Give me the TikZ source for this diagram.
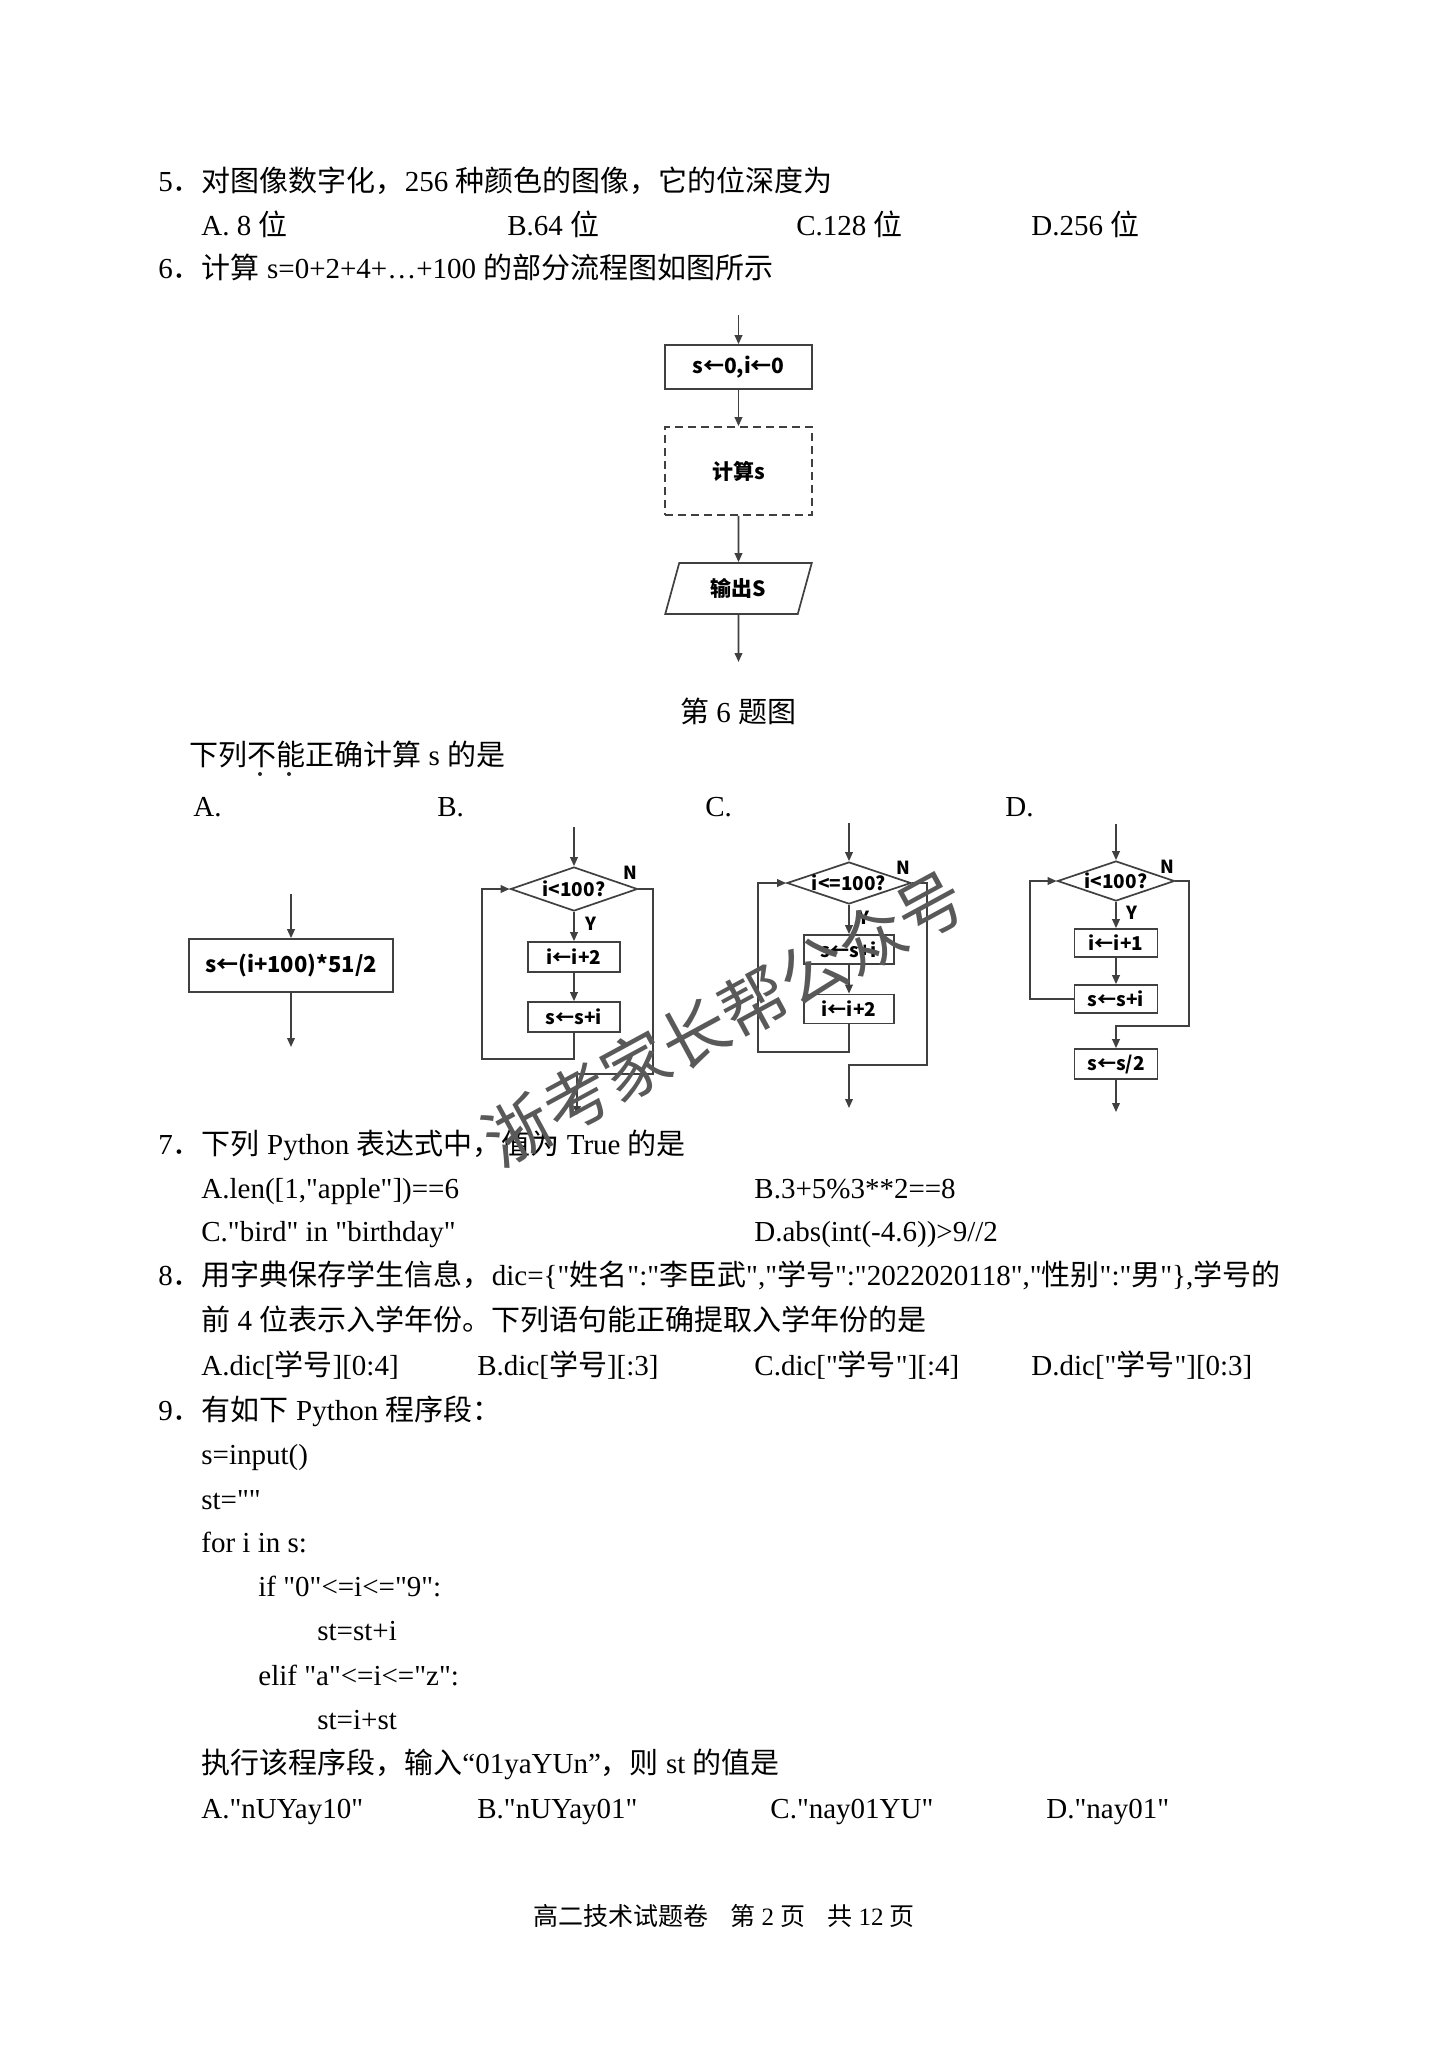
\documentclass[tikz,border=0pt]{standalone}
\usepackage{fontspec}
\setmainfont{Liberation Serif}[Ligatures=TeXOff]
\newfontfamily\cjk{Noto Sans CJK SC}
\newfontfamily\chartfont{Noto Sans CJK SC}
\usetikzlibrary{arrows.meta,shapes.geometric}
\newcommand\zh[1]{{\cjk #1}}
\newcommand\bodysize{\fontsize{14.5pt}{17pt}\selectfont}
\newcommand\ctr[1]{\makebox[0pt]{#1}}
\tikzset{
  flowline/.style={draw=black!75, line width=0.85pt},
  arr/.style={flowline, -{Triangle[length=4.5pt,width=3.8pt]}},
  txt/.style={anchor=base west, inner sep=0pt, font=\bodysize},
  flowbox/.style={flowline, rectangle, inner sep=0pt, font=\chartfont\bfseries\fontsize{9.5pt}{11pt}\selectfont},
  decision/.style={flowline, diamond, inner sep=0pt, font=\chartfont\bfseries\fontsize{9.5pt}{11pt}\selectfont},
  yn/.style={inner sep=0pt, font=\chartfont\bfseries\fontsize{9pt}{11pt}\selectfont},
}
\begin{document}
\begin{tikzpicture}[x=0.5pt,y=-0.5pt]
	\useasboundingbox (0,0) rectangle (1448,2047);
	\fill[white] (0,0) rectangle (1448,2047);
	% question 5
	\node[txt] (q5) at (158,191) {5\zh{．对图像数字化，}256 \zh{种颜色的图像，它的位深度为}};
	\node[txt] (q5a) at (201,235) {A. 8 \zh{位}};
	\node[txt] (q5b) at (507,235) {B.64 \zh{位}};
	\node[txt] (q5c) at (796,235) {C.128 \zh{位}};
	\node[txt] (q5d) at (1031,235) {D.256 \zh{位}};
	% question 6
	\node[txt] (q6) at (158,278) {6\zh{．计算} s=0+2+4+…+100 \zh{的部分流程图如图所示}};
	\coordinate (in0) at (738.5,315);
	\node[flowbox, minimum width=73.5pt, minimum height=22pt, font=\chartfont\bfseries\fontsize{10.5pt}{13pt}\selectfont] (init) at (738.5,367) {s←0,i←0};
	\node[flowbox, dash pattern=on 4pt off 2.5pt, minimum width=73.5pt, minimum height=44pt, font=\chartfont\bfseries\fontsize{10.5pt}{13pt}\selectfont] (calc) at (738.5,471) {计算s};
	\node[flowline, trapezium, trapezium left angle=72, trapezium right angle=108, trapezium stretches=true, minimum width=73.5pt, minimum height=25.5pt, inner sep=0pt, font=\chartfont\bfseries\fontsize{10.5pt}{13pt}\selectfont] (outS) at (738.5,588.5) {输出S};
	\coordinate (out0) at (738.5,662);
	\draw[arr] (in0) -- (init);
	\draw[arr] (init) -- (calc);
	\draw[arr] (calc) -- (outS);
	\draw[arr] (outS) -- (out0);
	\node[txt, anchor=base] (cap) at (738,722) {\zh{第} 6 \zh{题图}};
	\node[txt] (ask) at (189,765) {\zh{下列不能正确计算} s \zh{的是}};
	\fill[black!85] (260,774) circle (1pt) (289,774) circle (1pt);
	\node[txt] (lA) at (193,816) {A.};
	\node[txt] (lB) at (437,816) {B.};
	\node[txt] (lC) at (705,816) {C.};
	\node[txt] (lD) at (1005,816) {D.};
	% A
	\coordinate (Ain) at (291,894);
	\node[flowbox, minimum width=102pt, minimum height=26.5pt, font=\chartfont\bfseries\fontsize{11pt}{13pt}\selectfont] (As) at (291,965.5) {s←(i+100)*51/2};
	\coordinate (Aout) at (291,1047);
	\draw[arr] (Ain) -- (As);
	\draw[arr] (As) -- (Aout);
	% B
	\coordinate (Bin) at (574,827);
	\node[decision, minimum width=63.5pt, minimum height=22pt] (Bd) at (574,889) {\ctr{i<100?}};
	\node[flowbox, minimum width=46pt, minimum height=15pt] (Bi) at (574,957) {i←i+2};
	\node[flowbox, minimum width=46pt, minimum height=15pt] (Bs) at (574,1017) {s←s+i};
	\node[yn] (BN) at (630,873) {N};
	\node[yn] (BY) at (591,924) {Y};
	\coordinate (Bl) at (482,1059);
	\coordinate (Br) at (653,1074);
	\coordinate (Bo) at (577,1115);
	\draw[arr] (Bin) -- (Bd);
	\draw[arr] (Bd) -- (Bi);
	\draw[arr] (Bi) -- (Bs);
	\draw[arr] (Bs.south) |- (Bl) |- (Bd.west);
	\draw[arr] (Bd.east) -| (Br) -| (Bo);
	% C
	\coordinate (Cin) at (849,823);
	\node[decision, minimum width=62pt, minimum height=21pt] (Cd) at (849,883) {\ctr{i<=100?}};
	\node[flowbox, minimum width=45pt, minimum height=14.5pt] (Cs) at (849,949.5) {s←s+i};
	\node[flowbox, minimum width=45pt, minimum height=14.5pt] (Ci) at (849,1009) {i←i+2};
	\node[yn] (CN) at (903,868) {N};
	\node[yn] (CY) at (864,918) {Y};
	\coordinate (Cl) at (758,1052);
	\coordinate (Cr) at (927,1065);
	\coordinate (Co) at (849,1108);
	\draw[arr] (Cin) -- (Cd);
	\draw[arr] (Cd) -- (Cs);
	\draw[arr] (Cs) -- (Ci);
	\draw[arr] (Ci.south) |- (Cl) |- (Cd.west);
	\draw[arr] (Cd.east) -| (Cr) -| (Co);
	% D
	\coordinate (Din) at (1116,824);
	\node[decision, minimum width=58.5pt, minimum height=20pt] (Dd) at (1116,881) {\ctr{i<100?}};
	\node[flowbox, minimum width=41.5pt, minimum height=14pt] (Di) at (1116,943) {i←i+1};
	\node[flowbox, minimum width=41.5pt, minimum height=14pt] (Ds) at (1116,999) {s←s+i};
	\node[flowbox, minimum width=41.5pt, minimum height=15pt] (Dh) at (1116,1064) {s←s/2};
	\node[yn] (DN) at (1167,867) {N};
	\node[yn] (DY) at (1132,913) {Y};
	\coordinate (Dl) at (1030,999);
	\coordinate (Dr) at (1189,1026);
	\coordinate (Do) at (1116,1112);
	\draw[arr] (Din) -- (Dd);
	\draw[arr] (Dd) -- (Di);
	\draw[arr] (Di) -- (Ds);
	\draw[arr] (Ds.west) -- (Dl) |- (Dd.west);
	\draw[arr] (Dd.east) -| (Dr) -| (Dh.north);
	\draw[arr] (Dh) -- (Do);
	% question 7
	\node[txt] (q7) at (158,1154) {7\zh{．下列} Python \zh{表达式中，值为} True \zh{的是}};
	\node[txt] (q7a) at (201,1198) {A.len([1,"apple"])==6};
	\node[txt] (q7b) at (754,1198) {B.3+5\%3**2==8};
	\node[txt] (q7c) at (201,1241) {C."bird" in "birthday"};
	\node[txt] (q7d) at (754,1241) {D.abs(int(-4.6))>9//2};
	% question 8
	\node[txt] (q8) at (158,1285) {8\zh{．用字典保存学生信息，}dic=\{"\zh{姓名}":"\zh{李臣武}","\zh{学号}":"2022020118","\zh{性别}":"\zh{男}"\},\zh{学号的}};
	\node[txt] (q8x) at (201,1330) {\zh{前} 4 \zh{位表示入学年份。下列语句能正确提取入学年份的是}};
	\node[txt] (q8a) at (201,1375) {A.dic[\zh{学号}][0:4]};
	\node[txt] (q8b) at (477,1375) {B.dic[\zh{学号}][:3]};
	\node[txt] (q8c) at (754,1375) {C.dic["\zh{学号}"][:4]};
	\node[txt] (q8d) at (1031,1375) {D.dic["\zh{学号}"][0:3]};
	% question 9
	\node[txt] (q9) at (158,1420) {9\zh{．有如下} Python \zh{程序段：}};
	\node[txt] (c1) at (201,1464) {s=input()};
	\node[txt] (c2) at (201,1509) {st=""};
	\node[txt] (c3) at (201,1552) {for i in s:};
	\node[txt] (c4) at (258,1596) {if "0"<=i<="9":};
	\node[txt] (c5) at (317,1640) {st=st+i};
	\node[txt] (c6) at (258,1685) {elif "a"<=i<="z":};
	\node[txt] (c7) at (317,1729) {st=i+st};
	\node[txt] (q9x) at (201,1773) {\zh{执行该程序段，输入}“01yaYUn”\zh{，则} st \zh{的值是}};
	\node[txt] (q9a) at (201,1818) {A."nUYay10"};
	\node[txt] (q9b) at (477,1818) {B."nUYay01"};
	\node[txt] (q9c) at (770,1818) {C."nay01YU"};
	\node[txt] (q9d) at (1046,1818) {D."nay01"};
	% footer
	\node[txt, anchor=base, font=\fontsize{12.5pt}{15pt}\selectfont] (foot) at (724,1925) {\zh{高二技术试题卷}\hspace{11pt}\zh{第} 2 \zh{页}\hspace{11pt}\zh{共} 12 \zh{页}};
	% watermark
	\node[rotate=28.5, inner sep=0pt, text=black!65, font=\cjk\fontsize{33.5pt}{40pt}\selectfont] (wm) at (724,1018) {浙考家长帮公众号};
\end{tikzpicture}
\end{document}
